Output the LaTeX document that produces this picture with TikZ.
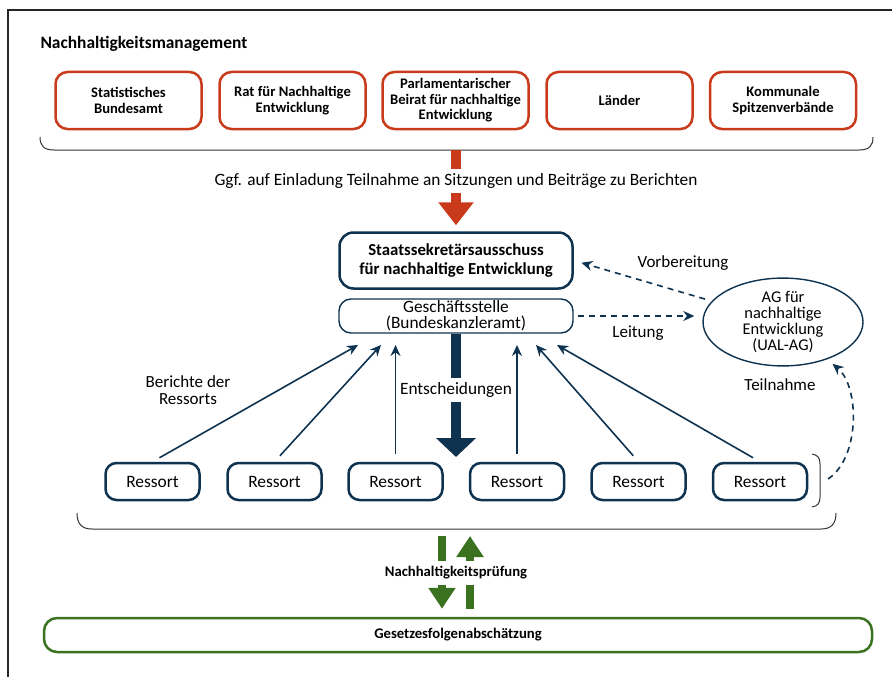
\documentclass[tikz,border=0pt]{standalone}
\usepackage{fontspec}
\setmainfont{Carlito}
\usetikzlibrary{arrows.meta,shapes.geometric,positioning}
\definecolor{bundred}{HTML}{C93A1B}
\definecolor{bundnavy}{HTML}{0E3350}
\definecolor{bundgreen}{HTML}{3B7220}

\begin{document}
\begin{tikzpicture}
  [x=1pt, y=-1pt,
   partner/.style={draw=bundred, line width=2.5pt, rounded corners=12pt,
     minimum width=146pt, minimum height=57pt, align=center, inner sep=0pt,
     font=\fontsize{14.6}{15.5}\selectfont\bfseries},
   ressort/.style={draw=bundnavy, line width=2.5pt, rounded corners=11pt,
     minimum width=94pt, minimum height=37pt, inner sep=0pt,
     font=\fontsize{17.4}{16}\selectfont},
   note/.style={font=\fontsize{17}{17}\selectfont, align=center},
   report/.style={bundnavy, line width=1.6pt, -{Stealth[length=11pt,width=10pt]}},
   hint/.style={bundnavy, line width=1.6pt, dash pattern=on 6pt off 5pt,
     -{Stealth[length=11pt,width=10pt]}},
   bracket/.style={black!80, line width=1pt}]
  %\draw[help lines] (0,0) grid[step=50pt] (892,677);
  \useasboundingbox (0,0) rectangle (892,677);
  \draw[black!85, line width=1.2pt] (8,677) -- (8,10) -- (892,10);

  \node[anchor=west, font=\fontsize{17.4}{18}\selectfont\bfseries] (title) at (37,44)
    {Nachhaltigkeitsmanagement};

  \node[partner] (p1) at (128.5,100.5) {Statistisches\\Bundesamt};
  \node[partner] (p2) at (292.5,100.5) {Rat für Nachhaltige\\Entwicklung};
  \node[partner] (p3) at (455.5,100.5) {Parlamentarischer\\Beirat für nachhaltige\\Entwicklung};
  \node[partner] (p4) at (619.5,100.5) {Länder};
  \node[partner] (p5) at (783,100.5) {Kommunale\\Spitzenverbände};
  \draw[bracket] (40,137) .. controls (40,146) and (44,150) .. (54,150) -- (859,150)
    .. controls (869,150) and (873,146) .. (873,137);
  \coordinate (tb) at (456,150);

  \node[draw=bundnavy, line width=2.5pt, rounded corners=14pt, minimum width=233pt,
    minimum height=56pt, inner sep=0pt, align=center, font=\fontsize{16.8}{18.5}\selectfont\bfseries]
    (sts) at (456,260.5) {Staatssekretärsausschuss\\für nachhaltige Entwicklung};
  \node[draw=bundnavy, line width=1.4pt, rounded corners=12pt, minimum width=234pt,
    minimum height=34pt, inner sep=0pt, note, font=\fontsize{17.3}{16}\selectfont]
    (gs) at (456,316) {Geschäftsstelle\\(Bundeskanzleramt)};
  \node[draw=bundnavy, line width=1.4pt, ellipse, minimum width=160pt, minimum height=70pt,
    inner sep=0pt, note, font=\fontsize{16.4}{16.2}\selectfont] (ag) at (783,322)
    {AG für\\nachhaltige\\Entwicklung\\(UAL-AG)};

  \draw[bundred, line width=10pt, shorten >=6pt,
    -{Triangle[width=34pt,length=23pt]}] (tb) -- (sts.north);
  \node[note, fill=white, inner xsep=4pt, inner ysep=5pt, font=\fontsize{17.3}{17}\selectfont]
    (invite) at (456,181)
    {Ggf. auf Einladung Teilnahme an Sitzungen und Beiträge zu Berichten};

  \node[ressort] (r1) at (152.5,481.5) {Ressort};
  \node[ressort] (r2) at (274.5,481.5) {Ressort};
  \node[ressort] (r3) at (395.5,481.5) {Ressort};
  \node[ressort] (r4) at (517,481.5) {Ressort};
  \node[ressort] (r5) at (638.5,481.5) {Ressort};
  \node[ressort] (r6) at (760,481.5) {Ressort};
  \draw[bracket] (812,454) .. controls (818,455) and (820,458) .. (820,464) -- (820,497)
    .. controls (820,503) and (818,506) .. (812,507);
  \draw[bracket] (77,513) .. controls (77,524) and (82,529) .. (92,529) -- (821,529)
    .. controls (831,529) and (836,524) .. (836,513);

  % Berichte der Ressorts
  \coordinate (t1) at (358,345);
  \coordinate (t2) at (381,345);
  \coordinate (t3) at (395.5,345);
  \coordinate (t4) at (517,345);
  \coordinate (t5) at (536,345);
  \coordinate (t6) at (557,345);
  \draw[report, shorten <=8pt] (r1.north) -- (t1);
  \draw[report, shorten <=8pt] (r2.north) -- (t2);
  \draw[report, shorten <=8pt] (r3.north) -- (t3);
  \draw[report, shorten <=8pt] (r4.north) -- (t4);
  \draw[report, shorten <=8pt] (r5.north) -- (t5);
  \draw[report, shorten <=8pt] (r6.north) -- (t6);
  \node[note] (reports) at (188,390) {Berichte der\\Ressorts};

  \coordinate (dec) at (456,457);
  \draw[bundnavy, line width=9.5pt, -{Triangle[width=39pt,length=19pt]}] (gs.south) -- (dec);
  \node[note, fill=white, inner xsep=2pt, inner ysep=5pt, font=\fontsize{17.3}{17}\selectfont]
    (decisions) at (456,390) {Entscheidungen};

  \draw[hint, shorten <=7pt, shorten >=8pt] (ag) -- (sts.east);
  \node[note] (prep) at (683,263) {Vorbereitung};
  \draw[hint, shorten <=4pt, shorten >=8pt] (gs.east) -- (gs.east -| ag.west);
  \node[note] (lead) at (638,333) {Leitung};
  \coordinate (rb) at (828,479);
  \draw[hint, shorten >=7pt] (rb) .. controls (860,458) and (860,387) .. (ag);
  \node[note] (join) at (780,385) {Teilnahme};

  \node[draw=bundgreen, line width=2.5pt, rounded corners=13pt, minimum width=828pt,
    minimum height=34pt, inner sep=0pt, font=\fontsize{14.7}{15}\selectfont\bfseries]
    (gfa) at (458,635) {Gesetzesfolgenabschätzung};
  \coordinate (gl) at (442,536);
  \coordinate (gr) at (470,536);
  \draw[bundgreen, line width=7.5pt, shorten >=8pt,
    -{Triangle[width=26pt,length=21pt]}] (gl) -- (gl |- gfa.north);
  \draw[bundgreen, line width=7.5pt, shorten <=8pt,
    -{Triangle[width=26pt,length=21pt]}] (gr |- gfa.north) -- (gr);
  \node[fill=white, inner xsep=3pt, inner ysep=6pt, font=\fontsize{14.7}{15}\selectfont\bfseries]
    (check) at (456,573) {Nachhaltigkeitsprüfung};
\end{tikzpicture}
\end{document}
